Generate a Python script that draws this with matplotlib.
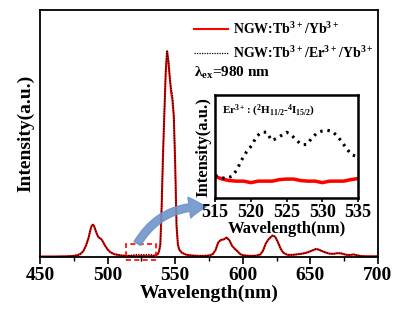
import matplotlib
matplotlib.use("Agg")
import matplotlib.pyplot as plt
from matplotlib.patches import Rectangle

plt.rcParams["font.family"] = ["Liberation Serif", "DejaVu Serif"]
plt.rcParams["font.weight"] = "bold"
plt.rcParams["mathtext.default"] = "regular"

# main spectrum
wavelength = [450, 460, 470, 475, 478, 480, 482, 484, 486, 487, 488, 489, 490, 491, 492, 493,
              494, 495, 496, 497, 498, 500, 502, 505, 510, 514, 517, 520, 523, 526, 529, 532,
              535, 537, 538, 539, 540, 541, 542, 543, 544, 545, 546, 547, 548, 549, 550, 551,
              552, 553, 555, 558, 562, 567, 572, 576, 578, 580, 581, 582, 584, 586, 588, 590,
              592, 594, 596, 598, 600, 605, 610, 613, 615, 617, 619, 620, 622, 624, 626, 628,
              630, 633, 637, 641, 645, 648, 651, 654, 656, 658, 661, 664, 667, 670, 673, 676,
              679, 682, 685, 688, 692, 696, 700]
tb_yb = [0.002, 0.002, 0.003, 0.005, 0.009, 0.015, 0.028, 0.055, 0.095, 0.125, 0.148, 0.157,
         0.150, 0.130, 0.112, 0.098, 0.092, 0.088, 0.080, 0.068, 0.056, 0.036, 0.023, 0.013,
         0.007, 0.005, 0.004, 0.004, 0.004, 0.005, 0.004, 0.004, 0.006, 0.012, 0.025, 0.06,
         0.25, 0.50, 0.70, 0.90, 1.00, 0.95, 0.87, 0.80, 0.76, 0.68, 0.45, 0.15, 0.06, 0.035,
         0.02, 0.011, 0.007, 0.005, 0.005, 0.008, 0.015, 0.035, 0.055, 0.072, 0.083, 0.085,
         0.094, 0.082, 0.055, 0.040, 0.028, 0.014, 0.008, 0.005, 0.006, 0.012, 0.030, 0.065,
         0.085, 0.092, 0.104, 0.098, 0.072, 0.040, 0.020, 0.010, 0.010, 0.013, 0.017, 0.022,
         0.030, 0.038, 0.036, 0.030, 0.022, 0.016, 0.015, 0.018, 0.017, 0.011, 0.009, 0.012,
         0.007, 0.004, 0.003, 0.003, 0.003]
tb_er_yb = [0.002, 0.002, 0.003, 0.005, 0.009, 0.015, 0.028, 0.055, 0.095, 0.125, 0.148, 0.157,
            0.150, 0.130, 0.112, 0.098, 0.092, 0.088, 0.080, 0.068, 0.056, 0.036, 0.023, 0.013,
            0.007, 0.006, 0.008, 0.011, 0.012, 0.011, 0.012, 0.011, 0.008, 0.012, 0.025, 0.06,
            0.25, 0.50, 0.70, 0.90, 1.00, 0.95, 0.87, 0.82, 0.79, 0.68, 0.45, 0.15, 0.06, 0.035,
            0.02, 0.011, 0.007, 0.005, 0.005, 0.008, 0.015, 0.035, 0.055, 0.072, 0.083, 0.085,
            0.094, 0.082, 0.055, 0.040, 0.028, 0.014, 0.008, 0.005, 0.006, 0.012, 0.030, 0.065,
            0.085, 0.092, 0.104, 0.098, 0.072, 0.040, 0.020, 0.010, 0.010, 0.013, 0.017, 0.022,
            0.030, 0.038, 0.036, 0.030, 0.022, 0.016, 0.015, 0.018, 0.017, 0.011, 0.009, 0.012,
            0.007, 0.004, 0.003, 0.003, 0.003]

# inset (Er3+ 2H11/2 -> 4I15/2 region)
inset_wl_er = [515, 516.4, 517.3, 518, 518.7, 519.4, 520.1, 520.8, 521.5, 522.2, 522.9, 523.6,
               524.3, 525, 525.7, 526.4, 527.1, 527.8, 528.5, 529.2, 529.9, 530.6, 531.3, 532,
               532.7, 533.4, 534.1, 534.6]
inset_er = [0.22, 0.19, 0.21, 0.27, 0.37, 0.45, 0.51, 0.60, 0.64, 0.64, 0.56, 0.58, 0.61, 0.64,
            0.61, 0.56, 0.52, 0.52, 0.58, 0.63, 0.65, 0.66, 0.65, 0.61, 0.55, 0.48, 0.42, 0.41]
inset_wl_tb = [515, 516, 517, 518, 519, 520, 521, 522, 523, 524, 525, 526, 527, 528, 529, 530,
               531, 532, 533, 534, 535]
inset_tb = [0.21, 0.185, 0.17, 0.165, 0.165, 0.15, 0.165, 0.165, 0.165, 0.18, 0.185, 0.185,
            0.17, 0.165, 0.165, 0.15, 0.165, 0.165, 0.165, 0.18, 0.19]

fig = plt.figure(figsize=(4.13, 3.16), dpi=100)
ax = fig.add_axes([0.097, 0.187, 0.818, 0.781])

ax.plot(wavelength, tb_yb, color="red", lw=1.5, label="NGW:Tb$^{3+}$/Yb$^{3+}$")
ax.plot(wavelength, tb_er_yb, color="black", lw=0.9, ls=(0, (1, 1)),
        label="NGW:Tb$^{3+}$/Er$^{3+}$/Yb$^{3+}$")
ax.set_xlim(450, 700)
ax.set_ylim(0, 1.2)
ax.set_xticks([450, 500, 550, 600, 650, 700])
ax.set_xticks([475, 525, 575, 625, 675], minor=True)
ax.set_yticks([])
ax.tick_params(axis="x", which="major", length=5, width=1.2, labelsize=14, pad=2)
ax.tick_params(axis="x", which="minor", length=3, width=1.0)
for s in ax.spines.values():
    s.set_linewidth(1.3)
ax.set_xlabel("Wavelength(nm)", fontsize=14, fontweight="bold", labelpad=1)
ax.set_ylabel("Intensity(a.u.)", fontsize=14, fontweight="bold", labelpad=4)

ax.legend(loc="upper left", bbox_to_anchor=(0.432, 0.988), frameon=False, fontsize=10,
          handlelength=2.45, handletextpad=0.3, labelspacing=0.55, borderaxespad=0.2)
fig.text(0.47, 0.769, "λ$_{ex}$=980 nm", fontsize=11, fontweight="bold", va="center")

# dashed box marking zoomed region
ax.add_patch(Rectangle((513.5, -0.015), 22.5, 0.08, fill=False, ec="red", lw=1.2,
                       ls=(0, (3, 2)), clip_on=False, zorder=5))

# curved arrow to inset
ax.annotate("", xy=(206, 109), xycoords="figure pixels", xytext=(522, 0.065),
            textcoords="data",
            arrowprops=dict(arrowstyle="simple,head_width=1.5,head_length=1.2,tail_width=0.55",
                            connectionstyle="arc3,rad=-0.3", color="#6f94c9", alpha=0.9,
                            shrinkA=0, shrinkB=0, mutation_scale=10), zorder=6)

ins = fig.add_axes([0.521, 0.373, 0.346, 0.326])
ins.plot(inset_wl_tb, inset_tb, color="red", lw=2.5)
ins.plot(inset_wl_er, inset_er, color="black", lw=2.2, ls=(0, (0.8, 1.6)))
ins.set_xlim(515, 535)
ins.set_ylim(0, 1)
ins.set_xticks([515, 520, 525, 530, 535])
ins.set_yticks([])
ins.tick_params(axis="x", length=3, width=1.2, labelsize=13, pad=1)
for s in ins.spines.values():
    s.set_linewidth(1.8)
ins.set_xlabel("Wavelength(nm)", fontsize=12, fontweight="bold", labelpad=0)
ins.set_ylabel("Intensity(a.u.)", fontsize=12, fontweight="bold", labelpad=3)
ins.text(0.05, 0.85, "Er$^{3+}$: ($^{2}$H$_{11/2}$-$^{4}$I$_{15/2}$)", transform=ins.transAxes,
         fontsize=8, fontweight="bold", va="center")

fig.savefig("out.png", dpi=100)
